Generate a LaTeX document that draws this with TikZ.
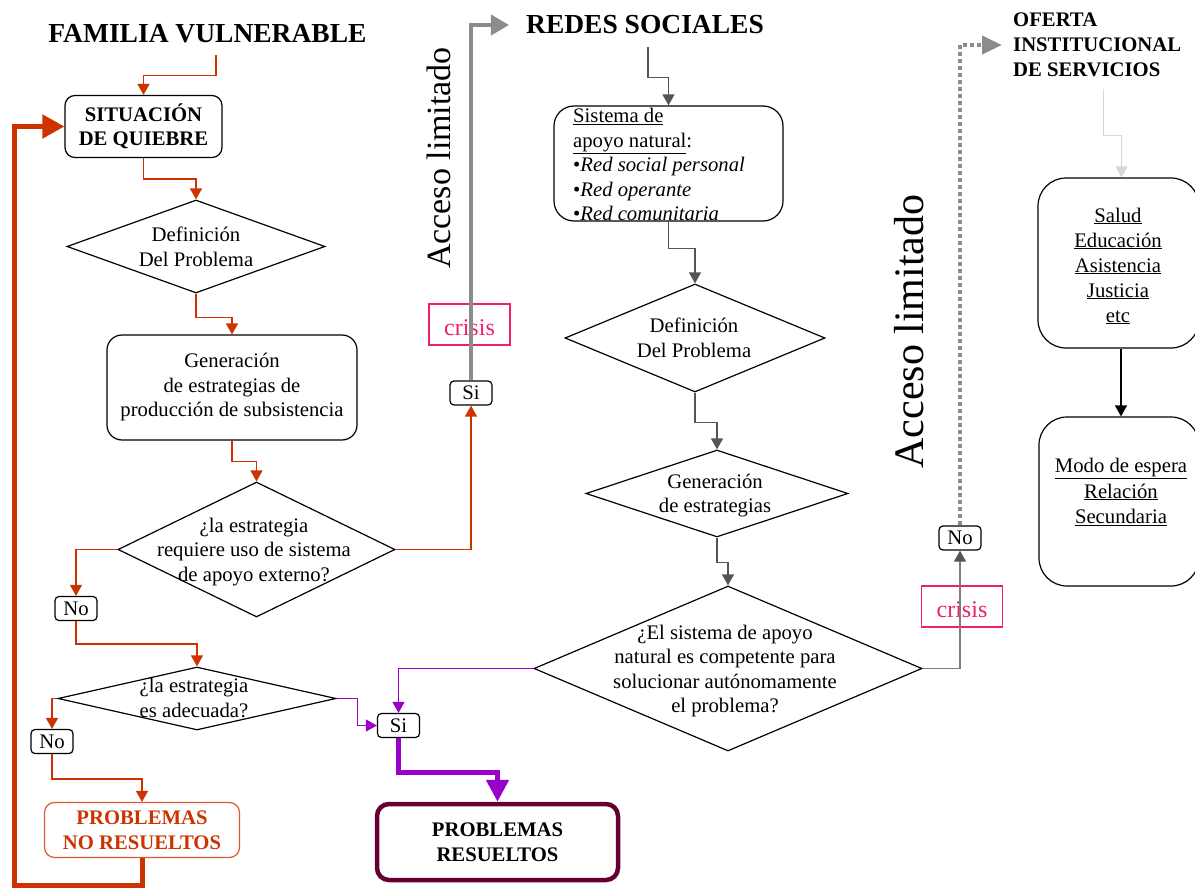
\documentclass[tikz,border=0pt]{standalone}
\usepackage{fontspec}
\setmainfont{Liberation Serif}
\usetikzlibrary{arrows.meta,shapes.geometric}
\definecolor{redc}{RGB}{204,51,0}
\definecolor{redl}{RGB}{222,88,48}
\definecolor{pinkc}{RGB}{240,30,110}
\definecolor{purc}{RGB}{153,0,204}
\definecolor{maroonc}{RGB}{102,0,51}
\definecolor{dgray}{RGB}{85,85,85}
\definecolor{mgray}{RGB}{125,125,125}
\definecolor{tgray}{RGB}{140,140,140}
\definecolor{lgray}{RGB}{215,215,215}
\begin{document}
\begin{tikzpicture}[x=1pt,y=-1pt,
  txt/.style={font=\fontsize{20.7}{24.5}\selectfont, align=center, inner sep=0pt},
  ttl/.style={font=\fontsize{27.5}{32}\selectfont\bfseries, inner sep=0pt},
  rbox/.style={txt, draw, line width=1.2pt, rounded corners=#1},
  dia/.style={draw, diamond, line width=1.2pt, inner sep=0pt},
  tag/.style={txt, draw, rounded corners=4pt, line width=1.2pt, minimum width=42pt, minimum height=24pt},
  crisisbox/.style={draw=pinkc, text=pinkc, line width=1.2pt, minimum width=81pt, minimum height=41pt, inner sep=0pt, text height=21pt, text depth=0pt, font=\fontsize{24}{28}\selectfont},
  rarr/.style={draw=redc, line width=1.3pt, -{Triangle[width=12pt,length=11pt]}},
  garr/.style={draw=dgray, line width=1.3pt, -{Triangle[width=12pt,length=11pt]}},
  garrb/.style={draw=mgray, line width=1.4pt, -{Triangle[width=12pt,length=11pt,color=dgray]}},
  parr/.style={draw=purc, line width=1.3pt, -{Triangle[width=12pt,length=11pt]}},
  dotarr/.style={draw=tgray, line width=4pt, dash pattern=on 4pt off 3pt, -{Triangle[width=18pt,length=20pt]}}
]
\useasboundingbox (0,0) rectangle (1195,888);
\clip (0,0) rectangle (1195,888);

% ---------- left column ----------
\node[ttl] (fam) at (207.5,34) {FAMILIA VULNERABLE};
\node[rbox=10pt, minimum width=157pt, minimum height=62pt, font=\fontsize{20.7}{24.5}\selectfont\bfseries] (situ) at (143.5,126.5) {SITUACIÓN\\DE QUIEBRE};
\node[dia, minimum width=258pt, minimum height=93pt] (d1) at (196,246.5) {};
\node[txt] (d1t) at (196,247) {Definición\\Del Problema};
\node[rbox=15pt, minimum width=250pt, minimum height=105pt] (gen) at (232,387.5) {Generación\\de estrategias de\\producción de subsistencia};
\node[dia, minimum width=277pt, minimum height=135pt] (d2) at (256.5,549.5) {};
\node[txt] (d2t) at (254,552) {¿la estrategia\\requiere uso de sistema\\de apoyo externo?};
\node[tag] (no1) at (76,608.5) {No};
\node[dia, minimum width=278pt, minimum height=63pt] (d3) at (197,698.5) {};
\node[txt] (d3t) at (194,698) {¿la estrategia\\es adecuada?};
\node[tag] (no2) at (52,741.5) {No};
\node[rbox=10pt, draw=redl, text=redc, minimum width=195pt, minimum height=55pt, font=\fontsize{20.7}{24.5}\selectfont\bfseries] (pnr) at (142,830) {PROBLEMAS\\NO RESUELTOS};
\node[tag] (si1) at (471,393) {Si};
\node[crisisbox] (cr1) at (469.5,324.5) {crisis};
\node[tag] (si2) at (398.5,725.5) {Si};
\node[rbox=12pt, draw=maroonc, line width=4.5pt, minimum width=241pt, minimum height=76pt, font=\fontsize{20.7}{24.5}\selectfont\bfseries] (pr) at (497.5,842) {PROBLEMAS\\RESUELTOS};
\node[rotate=90, anchor=base, inner sep=0pt, font=\fontsize{34}{40}\selectfont] (acc1) at (450,158) {Acceso limitado};

% ---------- middle column ----------
\node[ttl] (redes) at (645,25) {REDES SOCIALES};
\node[rbox=20pt, minimum width=229pt, minimum height=115pt] (sist) at (668.5,163.5) {};
\node[txt, align=left, anchor=north west] (sistt) at (573,108) {\underline{Sistema de}\\\underline{apoyo natural}:\\•\textit{Red social personal}\\•\textit{Red operante}\\•\textit{Red comunitaria}};
\node[dia, minimum width=260pt, minimum height=108pt] (d4) at (695,338) {};
\node[txt] (d4t) at (694,338) {Definición\\Del Problema};
\node[dia, minimum width=262pt, minimum height=87pt] (d5) at (717,493.5) {};
\node[txt] (d5t) at (715,495.5) {Generación\\de estrategias};
\node[dia, minimum width=388pt, minimum height=165pt] (d6) at (728,668.5) {};
\node[txt] (d6t) at (725,671) {¿El sistema de apoyo\\natural es competente para\\solucionar autónomamente\\el problema?};
\node[tag] (no3) at (960,538) {No};
\node[crisisbox] (cr2) at (962,606.5) {crisis};
\node[rotate=90, anchor=base, inner sep=0pt, font=\fontsize{42}{48}\selectfont] (acc2) at (923,331.5) {Acceso limitado};

% ---------- right column ----------
\node[ttl, font=\fontsize{20.7}{25.3}\selectfont\bfseries, align=left, anchor=west] (oft) at (1013,45) {OFERTA\\INSTITUCIONAL\\DE SERVICIOS};
\node[rbox=28pt, minimum width=161pt, minimum height=170pt] (sal) at (1118.5,263) {};
\node[txt, font=\fontsize{20.7}{25}\selectfont] (salt) at (1118,266) {\underline{Salud}\\\underline{Educación}\\\underline{Asistencia}\\\underline{Justicia}\\\underline{etc}};
\node[rbox=28pt, minimum width=160pt, minimum height=169pt] (modo) at (1119,501.5) {};
\node[txt, font=\fontsize{20.7}{25.5}\selectfont] (modot) at (1121,492) {\underline{Modo de espera}\\\underline{Relación}\\\underline{Secundaria}};

% ---------- connectors: left ----------
\draw[rarr] ([xshift=8.5pt,yshift=-12pt]fam.south) -- ++(0,20) -| (situ.north);
\draw[rarr] (situ.south) -- ++(0,21) -| (d1.north);
\draw[rarr] (d1.south) -- ++(0,24) -| (gen.north);
\draw[rarr] (gen.south) -- ++(0,21) -| (d2.north);
\draw[rarr] (d2.west) -| (no1.north);
\draw[rarr] (no1.south) -- ++(0,23) -| (d3.north);
\draw[rarr] (d3.west) -| (no2.north);
\draw[rarr] (no2.south) -- ++(0,25) -| (pnr.north);
\draw[rarr] (d2.east) -| (si1.south);
\coordinate (retc) at (14,885);
\draw[draw=redc, line width=5pt, -{Triangle[width=23pt,length=22pt]}] (pnr.south) |- (retc) |- (situ.west);
\draw[draw=tgray, line width=4pt, -{Triangle[width=20pt,length=18pt]}] (si1.north) |- ([xshift=-17pt]redes.west);

% ---------- connectors: middle ----------
\draw[garr] ([xshift=3pt,yshift=-13pt]redes.south) -- ++(0,30) -| (sist.north);
\draw[garr] (sist.south) -- ++(0,27) -| (d4.north);
\draw[garr] (d4.south) -- ++(0,30) -| (d5.north);
\draw[garr] (d5.south) -- ++(0,25) -| (d6.north);
\draw[garrb] (d6.east) -| (no3.south);
\draw[dotarr] (no3.north) |- ([xshift=-11pt]oft.west);
\draw[parr] (d6.west) -| (si2.north);
\draw[parr] (d3.east) -- ++(21,0) |- (si2.west);
\draw[draw=purc, line width=5pt, -{Triangle[width=22pt,length=22pt]}] (si2.south) -- ++(0,34) -| (pr.north);

% ---------- connectors: right ----------
\draw[draw=lgray, line width=1.3pt, -{Triangle[width=12pt,length=11pt]}] ([xshift=6pt,yshift=-11pt]oft.south) -- ++(0,47) -| ([xshift=3pt]sal.north);
\draw[line width=1.3pt, -{Triangle[width=12pt,length=11pt]}] ([xshift=2.5pt]sal.south) -- ([xshift=2pt]modo.north);
\end{tikzpicture}
\end{document}
